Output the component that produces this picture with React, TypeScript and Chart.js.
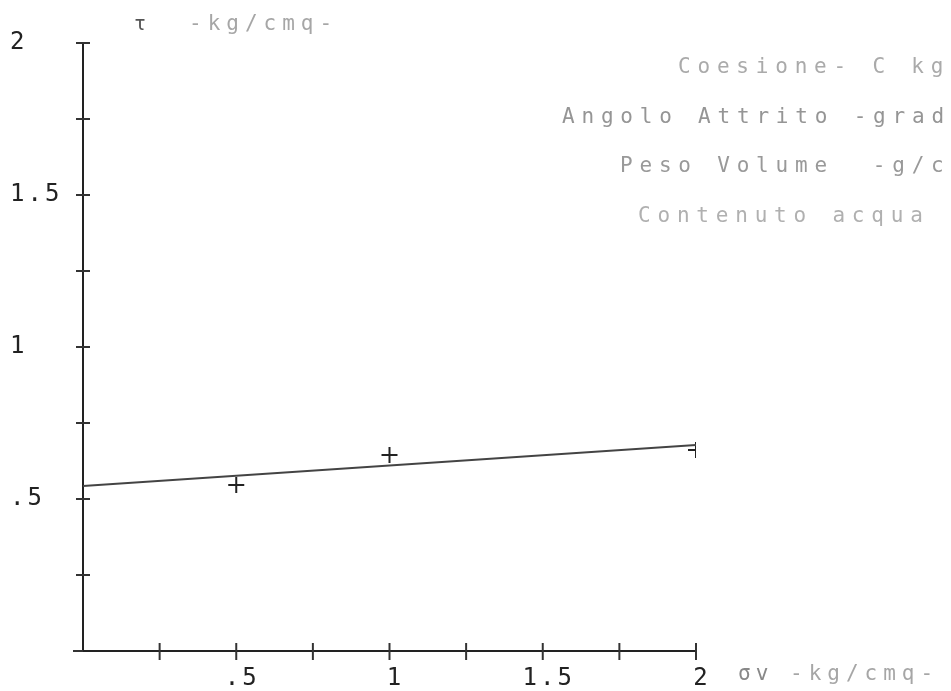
import React, { useEffect, useRef } from 'react';
import { Chart, registerables } from 'chart.js';

Chart.register(...registerables);

// Measured shear tests: normal stress σv (kg/cmq) vs shear stress τ (kg/cmq)
const sigmaV = [0.5, 1, 2];
const tau = [0.546, 0.645, 0.661];

// Interpolating failure line (Mohr-Coulomb), read at its end points
const lineSigma = [0, 2];
const lineTau = [0.543, 0.678];

// Axis ticks
const minorTicks = [0.25, 0.5, 0.75, 1, 1.25, 1.5, 1.75, 2];
const labeledValues = [0.5, 1, 1.5, 2];
const labeledTexts = ['.5', '1', '1.5', '2'];

// Texts
const yTitleSymbol = 'τ';
const yTitleUnit = '-kg/cmq-';
const xTitleSymbol = 'σv';
const xTitleUnit = '-kg/cmq-';
const legendLines = ['Coesione- C kg', 'Angolo Attrito -grad', 'Peso Volume  -g/c', 'Contenuto acqua'];

const labelFor = (v: number) => {
  const i = labeledValues.findIndex((l) => Math.abs(l - v) < 1e-6);
  return i >= 0 ? labeledTexts[i] : '';
};

const spacingPlugin = {
  id: 'spacing',
  beforeDraw(chart: any) {
    chart.ctx.letterSpacing = '3px';
  },
  afterDatasetsDraw(chart: any) {
    chart.ctx.letterSpacing = '0px';
  },
};

const tickMarksPlugin = {
  id: 'tickMarks',
  afterDraw(chart: any) {
    const { ctx, chartArea, scales } = chart;
    const xs = scales.x;
    const ys = scales.y;
    ctx.save();
    ctx.strokeStyle = '#333';
    ctx.lineWidth = 2;
    for (const v of minorTicks) {
      const py = ys.getPixelForValue(v);
      ctx.beginPath();
      ctx.moveTo(chartArea.left - 7, py);
      ctx.lineTo(chartArea.left + 7, py);
      ctx.stroke();
      const px = xs.getPixelForValue(v);
      ctx.beginPath();
      ctx.moveTo(px, chartArea.bottom - 8);
      ctx.lineTo(px, chartArea.bottom + 9);
      ctx.stroke();
    }
    // small overshoot of the x axis left of the origin
    ctx.beginPath();
    ctx.moveTo(chartArea.left - 10, chartArea.bottom);
    ctx.lineTo(chartArea.left, chartArea.bottom);
    ctx.stroke();
    ctx.restore();
  },
};

const textPlugin = {
  id: 'texts',
  afterDraw(chart: any) {
    const { ctx, chartArea } = chart;
    ctx.save();
    ctx.textBaseline = 'middle';
    ctx.textAlign = 'left';
    // y title
    ctx.letterSpacing = '0px';
    ctx.font = '20px "DejaVu Sans Mono"';
    ctx.fillStyle = '#555';
    ctx.fillText(yTitleSymbol, chartArea.left + 51, chartArea.top - 18);
    ctx.letterSpacing = '6px';
    ctx.font = '21px "DejaVu Sans Mono"';
    ctx.fillStyle = '#a6a6a6';
    ctx.fillText(yTitleUnit, chartArea.left + 106, chartArea.top - 18);
    // x title
    const xEnd = chartArea.right;
    ctx.font = '21px "DejaVu Sans Mono"';
    ctx.letterSpacing = '5px';
    ctx.fillStyle = '#888';
    ctx.fillText(xTitleSymbol, xEnd + 42, chartArea.bottom + 24);
    ctx.letterSpacing = '6px';
    ctx.fillStyle = '#a6a6a6';
    ctx.fillText(xTitleUnit, xEnd + 94, chartArea.bottom + 24);
    // legend block on the right
    ctx.font = '21px "DejaVu Sans Mono"';
    ctx.letterSpacing = '6.8px';
    const starts = [678, 562, 620, 638];
    const colors = ['#aaa', '#959595', '#999', '#b0b0b0'];
    legendLines.forEach((t, i) => {
      ctx.fillStyle = colors[i];
      ctx.fillText(t, starts[i], 68 + i * 49.5);
    });
    ctx.restore();
  },
};

export default function App() {
  const canvasRef = useRef<HTMLCanvasElement | null>(null);

  useEffect(() => {
    const canvas = canvasRef.current;
    if (!canvas) return;
    const tickFont = { family: '"DejaVu Sans Mono", monospace', size: 24 };
    const chart = new Chart(canvas, {
      type: 'scatter',
      data: {
        datasets: [
          {
            label: 'retta',
            data: lineSigma.map((x, i) => ({ x, y: lineTau[i] })),
            showLine: true,
            borderColor: '#444',
            borderWidth: 2,
            pointRadius: 0,
            fill: false,
          },
          {
            label: 'prove',
            data: sigmaV.map((x, i) => ({ x, y: tau[i] })),
            showLine: false,
            pointStyle: 'cross',
            pointRadius: 8,
            borderColor: '#222',
            backgroundColor: '#222',
            pointBorderWidth: 2,
          },
        ],
      },
      options: {
        animation: false,
        responsive: true,
        maintainAspectRatio: false,
        layout: { padding: { left: 10, right: 255, top: 43, bottom: 0 } },
        plugins: {
          legend: { display: false },
          tooltip: { enabled: false },
        },
        scales: {
          x: {
            type: 'linear',
            min: 0,
            max: 2,
            afterFit: (s: any) => {
              s.height = 40;
            },
            afterBuildTicks: (s: any) => {
              s.ticks = [0, ...minorTicks].map((v) => ({ value: v }));
            },
            grid: { display: false, drawTicks: false },
            border: { display: true, color: '#222', width: 2 },
            ticks: {
              autoSkip: false,
              maxRotation: 0,
              padding: 13,
              labelOffset: 6,
              color: '#222',
              font: tickFont,
              callback: (v: any) => labelFor(Number(v)),
            },
          },
          y: {
            type: 'linear',
            min: 0,
            max: 2,
            afterFit: (s: any) => {
              s.width = 73;
            },
            afterBuildTicks: (s: any) => {
              s.ticks = [0, ...minorTicks].map((v) => ({ value: v }));
            },
            grid: { display: false, drawTicks: false },
            border: { display: true, color: '#222', width: 2 },
            ticks: {
              autoSkip: false,
              crossAlign: 'far',
              color: '#222',
              font: tickFont,
              callback: (v: any) => labelFor(Number(v)),
            },
          },
        },
      },
      plugins: [spacingPlugin, tickMarksPlugin, textPlugin],
    } as any);
    return () => chart.destroy();
  }, []);

  return (
    <div style={{ position: 'fixed', left: 0, top: 0, width: 951, height: 691, background: '#fff' }}>
      <canvas ref={canvasRef} />
    </div>
  );
}
